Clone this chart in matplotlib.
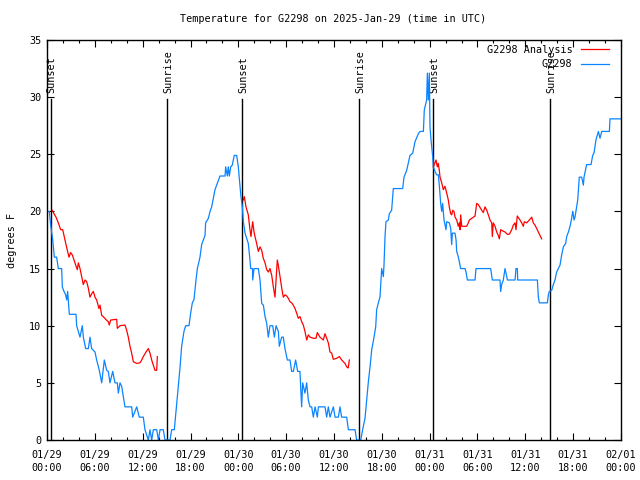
import matplotlib
matplotlib.use("Agg")
import matplotlib.pyplot as plt
from matplotlib.ticker import MultipleLocator

# hours since 2025-01-29 00:00 UTC
obs_hours = [0.0, 0.29, 0.46, 0.72, 0.92, 1.21, 1.42, 1.84, 1.92, 2.13, 2.34, 2.47, 2.59, 2.68, 2.80,
             3.64, 3.72, 4.14, 4.43, 4.56, 4.85, 5.19, 5.39, 5.60, 6.02, 6.23, 6.56, 6.86, 7.19, 7.48,
             7.69, 7.90, 8.24, 8.53, 8.82, 8.95, 9.16, 9.37, 9.78, 10.62, 10.75, 11.25, 11.58, 12.08,
             12.29, 12.71, 12.92, 13.13, 13.34, 13.76, 13.97, 14.18, 14.59, 14.80, 15.43, 15.64, 15.97,
             16.27, 16.47, 16.68, 16.89, 17.18, 17.39, 17.81, 18.02, 18.23, 18.44, 18.69, 18.86, 19.19,
             19.40, 19.61, 19.82, 19.90, 20.24, 20.45, 20.66, 21.07, 21.28, 21.70, 22.33, 22.41, 22.62,
             22.74, 22.87, 23.04, 23.24, 23.49, 23.79, 24.00, 24.12, 24.33, 24.50, 24.63, 24.84, 25.25,
             25.46, 25.55, 25.78, 25.80, 25.97, 26.51, 26.72, 26.93, 27.14, 27.35, 27.56, 27.76, 27.97,
             28.31, 28.52, 28.73, 29.02, 29.14, 29.43, 29.64, 29.85, 30.15, 30.48, 30.69, 30.90, 31.19,
             31.44, 31.73, 31.94, 32.07, 32.36, 32.57, 32.78, 32.99, 33.20, 33.41, 33.62, 33.91, 34.04,
             34.87, 35.08, 35.29, 35.50, 35.92, 36.13, 36.55, 36.75, 36.96, 37.59, 37.80, 38.64, 38.84,
             39.35, 39.68, 39.89, 40.10, 40.31, 40.52, 40.73, 41.02, 41.23, 41.35, 41.56, 41.77, 41.98,
             42.19, 42.27, 42.40, 42.52, 42.82, 42.94, 43.23, 43.44, 44.61, 44.78, 45.12, 45.53, 45.87,
             46.16, 46.58, 46.79, 47.21, 47.33, 47.62, 47.71, 47.83, 47.96, 48.04, 48.17, 48.38, 48.46,
             48.67, 48.88, 49.09, 49.22, 49.38, 49.51, 49.63, 49.80, 50.05, 50.13, 50.47, 50.64, 50.76,
             50.85, 51.18, 51.31, 51.39, 51.60, 51.72, 51.89, 52.44, 52.56, 52.73, 53.69, 53.81, 55.65,
             55.86, 56.82, 56.91, 57.03, 57.24, 57.45, 57.58, 57.75, 58.71, 58.83, 59.00, 59.04, 61.51,
             61.63, 61.76, 62.76, 62.89, 63.01, 63.31, 63.51, 63.72, 63.93, 64.14, 64.35, 64.56, 64.77,
             65.06, 65.19, 65.40, 65.61, 65.81, 65.94, 66.02, 66.11, 66.23, 66.44, 66.57, 66.77, 67.07,
             67.28, 67.36, 67.69, 68.24, 68.45, 68.61, 68.86, 69.16, 69.37, 69.58, 70.54, 70.62, 72.0]
obs_temps = [20.0, 20.0, 18.8, 17.5, 16.0, 16.0, 15.0, 15.0, 13.4, 13.0, 12.7, 12.25, 13.0, 12.1, 11.0,
             11.0, 10.0, 9.0, 10.0, 9.0, 8.0, 8.0, 9.0, 8.0, 7.7, 7.0, 6.1, 5.0, 7.0, 6.1,
             6.0, 5.0, 6.0, 5.0, 5.0, 4.1, 5.0, 4.7, 2.9, 2.9, 2.0, 2.9, 2.0, 2.0,
             0.9, 0.0, 0.9, 0.0, 0.9, 0.9, 0.0, 0.9, 0.9, 0.0, 0.0, 0.9, 0.9,
             3.2, 4.7, 6.3, 8.2, 9.5, 10.0, 10.0, 11.1, 12.0, 12.3, 14.0, 15.0, 16.0,
             17.1, 17.5, 17.9, 19.0, 19.4, 20.0, 20.4, 21.9, 22.3, 23.1, 23.1, 23.9, 23.1,
             23.9, 23.1, 23.9, 24.05, 24.9, 24.9, 23.9, 22.9, 21.3, 20.4, 19.1, 18.1, 17.2,
             15.75, 15.0, 15.0, 14.0, 15.0, 15.0, 14.0, 11.95, 11.8, 10.8, 10.2, 9.0, 10.0,
             10.0, 9.0, 10.0, 9.5, 8.2, 9.0, 9.0, 8.0, 7.0, 7.0, 6.0, 6.0, 7.0,
             6.0, 6.0, 2.9, 5.0, 4.1, 5.0, 3.5, 2.9, 2.9, 2.0, 2.9, 2.0, 2.9,
             2.9, 2.0, 2.9, 2.0, 2.9, 2.0, 2.0, 2.9, 2.0, 2.0, 0.9, 0.9, 0.0,
             0.0, 1.2, 1.9, 3.5, 5.1, 6.4, 7.9, 9.0, 9.9, 11.4, 12.0, 12.5, 15.0,
             14.3, 15.3, 17.8, 19.1, 19.25, 19.8, 20.1, 22.0, 22.0, 23.0, 23.6, 24.9, 25.1,
             26.1, 26.8, 27.0, 27.0, 28.9, 29.75, 32.1, 29.75, 32.1, 27.4, 26.25, 24.8, 23.9,
             23.5, 23.2, 23.2, 22.2, 20.7, 20.0, 20.7, 19.25, 18.4, 19.1, 19.0, 18.5, 17.1,
             18.1, 18.1, 17.5, 16.5, 16.0, 15.6, 15.0, 15.0, 14.7, 14.0, 14.0, 15.0, 15.0,
             14.0, 14.0, 13.0, 13.6, 14.0, 15.0, 14.6, 14.0, 14.0, 15.0, 15.0, 14.0, 14.0,
             12.5, 12.0, 12.0, 12.7, 13.0, 13.1, 13.6, 14.0, 14.7, 15.0, 15.3, 16.2, 16.9,
             17.2, 17.8, 18.2, 18.7, 19.4, 20.0, 19.7, 19.25, 19.5, 20.4, 21.0, 23.0, 23.0,
             22.3, 23.0, 24.1, 24.1, 24.9, 25.1, 26.25, 27.0, 26.4, 27.0, 27.0, 28.1, 28.1]

# analysis series: three nightly segments
ana1_hours = [0.66, 0.88, 1.13, 1.42, 1.72, 1.97, 2.13, 2.35, 2.55, 2.76, 2.97, 3.17, 3.39, 3.60, 3.80,
              3.93, 4.14, 4.35, 4.55, 4.77, 4.98, 5.18, 5.39, 5.61, 5.81, 6.02, 6.23, 6.52, 6.65, 6.86,
              7.06, 7.36, 7.69, 7.81, 7.99, 8.74, 8.82, 9.16, 9.78, 9.99, 10.20, 10.41, 10.62, 10.83,
              11.25, 11.67, 11.88, 12.08, 12.42, 12.71, 12.92, 13.13, 13.33, 13.55, 13.76, 13.84]
ana1_temps = [20.1, 19.8, 19.5, 19.0, 18.4, 18.4, 17.9, 17.2, 16.6, 16.0, 16.4, 16.2, 15.75, 15.3, 14.9,
              15.5, 15.0, 14.3, 13.6, 14.0, 13.85, 13.3, 12.5, 12.8, 13.0, 12.5, 12.25, 11.5, 11.8, 10.9,
              10.8, 10.56, 10.35, 10.06, 10.5, 10.56, 9.77, 10.0, 10.06, 9.6, 9.0, 8.2, 7.6, 6.85,
              6.7, 6.76, 7.0, 7.3, 7.7, 8.0, 7.6, 7.0, 6.56, 6.1, 6.1, 7.3]
ana2_hours = [24.62, 24.75, 24.96, 25.25, 25.46, 25.59, 25.68, 25.80, 25.97, 26.09, 26.30, 26.51, 26.72,
              26.93, 27.13, 27.35, 27.56, 27.76, 27.97, 28.19, 28.39, 28.60, 28.73, 28.89, 29.01, 29.23,
              29.44, 29.64, 29.86, 30.07, 30.27, 30.48, 30.69, 30.90, 31.11, 31.32, 31.52, 31.74, 31.95,
              32.15, 32.36, 32.58, 32.78, 32.99, 33.40, 33.74, 33.91, 34.24, 34.66, 34.87, 35.08, 35.29,
              35.50, 35.71, 35.91, 36.34, 36.67, 36.97, 37.17, 37.38, 37.59, 37.79, 37.92]
ana2_temps = [21.0, 21.3, 20.4, 19.7, 18.4, 17.8, 18.4, 19.1, 18.2, 17.8, 17.2, 16.5, 16.9,
              16.6, 15.9, 15.5, 14.9, 14.7, 15.0, 14.4, 13.4, 12.5, 14.0, 15.75, 15.3, 14.3,
              13.3, 12.5, 12.7, 12.6, 12.4, 12.1, 12.0, 11.8, 11.5, 11.1, 10.65, 10.8, 10.35,
              10.06, 9.5, 8.75, 9.2, 9.0, 8.9, 8.9, 9.4, 9.0, 8.75, 9.3, 8.9, 8.5,
              7.7, 7.6, 7.06, 7.15, 7.3, 7.0, 6.85, 6.7, 6.4, 6.3, 7.0]
ana3_hours = [48.46, 48.80, 48.96, 49.08, 49.21, 49.30, 49.51, 49.71, 49.92, 50.14, 50.34, 50.46, 50.64,
              50.76, 50.89, 51.05, 51.18, 51.39, 51.59, 51.72, 51.81, 51.89, 52.02, 52.64, 52.85, 52.98,
              53.28, 53.69, 53.90, 54.10, 54.53, 54.73, 54.94, 55.16, 55.36, 55.57, 55.78, 55.86, 55.98,
              56.20, 56.41, 56.61, 56.74, 56.91, 57.16, 57.45, 57.74, 57.99, 58.29, 58.49, 58.71, 58.83,
              58.99, 59.33, 59.54, 59.75, 59.87, 60.17, 60.50, 60.80, 61.00, 61.21, 61.43, 61.63, 61.84,
              62.05]
ana3_temps = [23.9, 24.5, 23.9, 24.2, 23.6, 23.0, 22.5, 21.9, 22.2, 21.6, 21.0, 20.4, 19.8,
              19.7, 20.1, 20.0, 19.5, 19.25, 18.7, 19.0, 18.4, 19.7, 18.7, 18.7, 19.0, 19.25,
              19.4, 19.6, 20.7, 20.6, 20.1, 19.9, 20.4, 20.1, 19.7, 19.25, 19.0, 17.8, 19.0,
              18.7, 18.2, 17.9, 17.6, 18.4, 18.3, 18.2, 18.0, 18.0, 18.4, 18.8, 19.0, 18.4,
              19.6, 19.25, 19.0, 18.7, 19.1, 19.0, 19.25, 19.5, 19.0, 18.8, 18.5, 18.2, 17.9,
              17.6]

sun_events = [0.46, 15.09, 24.5, 39.17, 48.46, 63.13]
sun_labels = ["Sunset", "Sunrise", "Sunset", "Sunrise", "Sunset", "Sunrise"]

tick_hours = list(range(0, 73, 6))
tick_labels = ["01/29\n00:00", "01/29\n06:00", "01/29\n12:00", "01/29\n18:00",
               "01/30\n00:00", "01/30\n06:00", "01/30\n12:00", "01/30\n18:00",
               "01/31\n00:00", "01/31\n06:00", "01/31\n12:00", "01/31\n18:00",
               "02/01\n00:00"]

FONT = "DejaVu Sans Mono"
FS = 7.3
RED = "#ff0000"
BLUE = "#0a84ff"

fig = plt.figure(figsize=(6.4, 4.8), dpi=100)
ax = fig.add_axes([47/640, 40/480, (621-47)/640, 400/480])

# sunrise / sunset markers
for h, lab in zip(sun_events, sun_labels):
    ax.plot([h, h], [0, 29.85], color="black", lw=1.0, zorder=1)
    ax.text(h + 0.12, 30.4, lab, rotation=90, ha="center", va="bottom",
            fontsize=FS, family=FONT, zorder=1)

ax.plot(ana1_hours, ana1_temps, color=RED, lw=0.9, label="G2298 Analysis", zorder=3)
ax.plot(ana2_hours, ana2_temps, color=RED, lw=0.9, zorder=3)
ax.plot(ana3_hours, ana3_temps, color=RED, lw=0.9, zorder=3)
ax.plot(obs_hours, obs_temps, color=BLUE, lw=0.9, label="G2298", zorder=2)

ax.set_xlim(0, 72)
ax.set_ylim(0, 35)
ax.set_xticks(tick_hours)
ax.set_xticklabels(tick_labels, fontsize=FS, family=FONT, linespacing=1.45)
ax.xaxis.set_minor_locator(MultipleLocator(2))
ax.yaxis.set_major_locator(MultipleLocator(5))
for lab in ax.get_yticklabels():
    lab.set_family(FONT)
    lab.set_fontsize(FS)
ax.tick_params(axis="both", which="major", direction="in", length=5, width=0.8,
               top=True, right=True, pad=4)
ax.tick_params(axis="x", which="minor", direction="in", length=2.5, width=0.8, top=True)
ax.tick_params(axis="x", which="major", pad=7)
for s in ax.spines.values():
    s.set_linewidth(1.0)

ax.set_ylabel("degrees F", fontsize=FS, family=FONT, labelpad=9)
fig.text(333/640, 1 - 19/480, "Temperature for G2298 on 2025-Jan-29 (time in UTC)",
         ha="center", va="center", fontsize=FS, family=FONT)

leg = ax.legend(loc="upper right", bbox_to_anchor=((609 - 47) / 574, (440 - 45) / 400),
                frameon=False, markerfirst=False, prop={"family": FONT, "size": FS},
                handlelength=2.8, handletextpad=0.8, labelspacing=0.42, borderpad=0.0,
                borderaxespad=0.0)
for t in leg.get_texts():
    t.set_ha("right")

fig.savefig("out.png", dpi=100)
